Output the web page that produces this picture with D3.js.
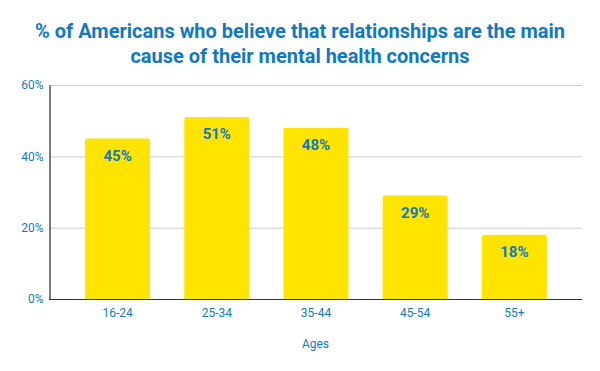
<!DOCTYPE html>
<html>
<head>
<meta charset="utf-8">
<script src="https://cdn.jsdelivr.net/npm/d3@7"></script>
<style>
  body { margin: 0; background: #fff; }
  svg text { font-family: Roboto, "Noto Sans", sans-serif; }
</style>
</head>
<body>
<script>
var grupos = ["16-24", "25-34", "35-44", "45-54", "55+"];
var porcentajes = [45, 51, 48, 29, 18];
var ticksY = [0, 20, 40, 60];
var titulo = ["% of Americans who believe that relationships are the main",
              "cause of their mental health concerns"];
var tituloEjeX = "Ages";

var width = 600;
var height = 371;
var azul = "#1279c0";
var amarillo = "#ffe400";

var margen = { arriba: 85, abajo: 72, izquierda: 49, derecha: 18 };

var svg = d3.select("body")
    .append("svg")
    .attr("width", width)
    .attr("height", height);

var escalaY = d3.scaleLinear()
    .domain([0, 60])
    .range([height - margen.abajo, margen.arriba]);

var escalaX = d3.scaleBand()
    .domain(grupos)
    .range([margen.izquierda + 19, width - margen.derecha - 18])
    .paddingInner(0.345)
    .paddingOuter(0.1725);

// rejilla
svg.append("g")
    .selectAll("line")
    .data(ticksY.filter(function(d){ return d > 0; }))
    .join("line")
    .attr("x1", margen.izquierda)
    .attr("x2", width - margen.derecha)
    .attr("y1", function(d){ return escalaY(d) + 0.5; })
    .attr("y2", function(d){ return escalaY(d) + 0.5; })
    .attr("stroke", "#cccccc")
    .attr("stroke-width", 1);

// barras
svg.append("g")
    .selectAll("path")
    .data(porcentajes)
    .join("path")
    .attr("fill", amarillo)
    .attr("d", function(d, i) {
        var x0 = escalaX(grupos[i]);
        var w = escalaX.bandwidth();
        var y0 = escalaY(d);
        var y1 = escalaY(0);
        var r = 2;
        return "M" + x0 + "," + y1 +
            "V" + (y0 + r) +
            "Q" + x0 + "," + y0 + " " + (x0 + r) + "," + y0 +
            "H" + (x0 + w - r) +
            "Q" + (x0 + w) + "," + y0 + " " + (x0 + w) + "," + (y0 + r) +
            "V" + y1 + "Z";
    });

// etiquetas de valor
svg.append("g")
    .selectAll("text")
    .data(porcentajes)
    .join("text")
    .attr("x", function(d, i){ return escalaX(grupos[i]) + escalaX.bandwidth() / 2; })
    .attr("y", function(d){ return escalaY(d) + 22; })
    .attr("text-anchor", "middle")
    .attr("fill", azul)
    .style("font-size", "15px")
    .style("font-weight", "bold")
    .text(function(d){ return d + "%"; });

// eje Y
var ejeY = d3.axisLeft(escalaY)
    .tickValues(ticksY)
    .tickSize(0)
    .tickPadding(6)
    .tickFormat(function(d){ return d + "%"; });

var gEjeY = svg.append("g")
    .attr("transform", "translate(" + (margen.izquierda + 0.5) + ",0)")
    .call(ejeY);
gEjeY.select(".domain").attr("stroke", "#222").attr("stroke-width", 1.2);
gEjeY.selectAll("text")
    .attr("fill", azul)
    .style("font-size", "12px")
    .style("font-family", "Roboto, sans-serif");

// eje X
var ejeX = d3.axisBottom(escalaX)
    .tickSize(0)
    .tickPadding(9);

var gEjeX = svg.append("g")
    .attr("transform", "translate(0," + (escalaY(0) + 0.5) + ")")
    .call(ejeX);
gEjeX.select(".domain")
    .attr("d", "M" + margen.izquierda + ",0H" + (width - margen.derecha))
    .attr("stroke", "#333")
    .attr("stroke-width", 1.2);
gEjeX.selectAll("text")
    .attr("fill", azul)
    .style("font-size", "12px")
    .style("font-family", "Roboto, sans-serif");

svg.append("text")
    .attr("x", (margen.izquierda + width - margen.derecha) / 2)
    .attr("y", 348)
    .attr("text-anchor", "middle")
    .attr("fill", azul)
    .style("font-size", "12px")
    .text(tituloEjeX);

// titulo
svg.append("g")
    .selectAll("text")
    .data(titulo)
    .join("text")
    .attr("x", width / 2)
    .attr("y", function(d, i){ return 38 + i * 24.5; })
    .attr("text-anchor", "middle")
    .attr("fill", azul)
    .style("font-size", "20px")
    .style("font-weight", "bold")
    .text(function(d){ return d; });
</script>
</body>
</html>
